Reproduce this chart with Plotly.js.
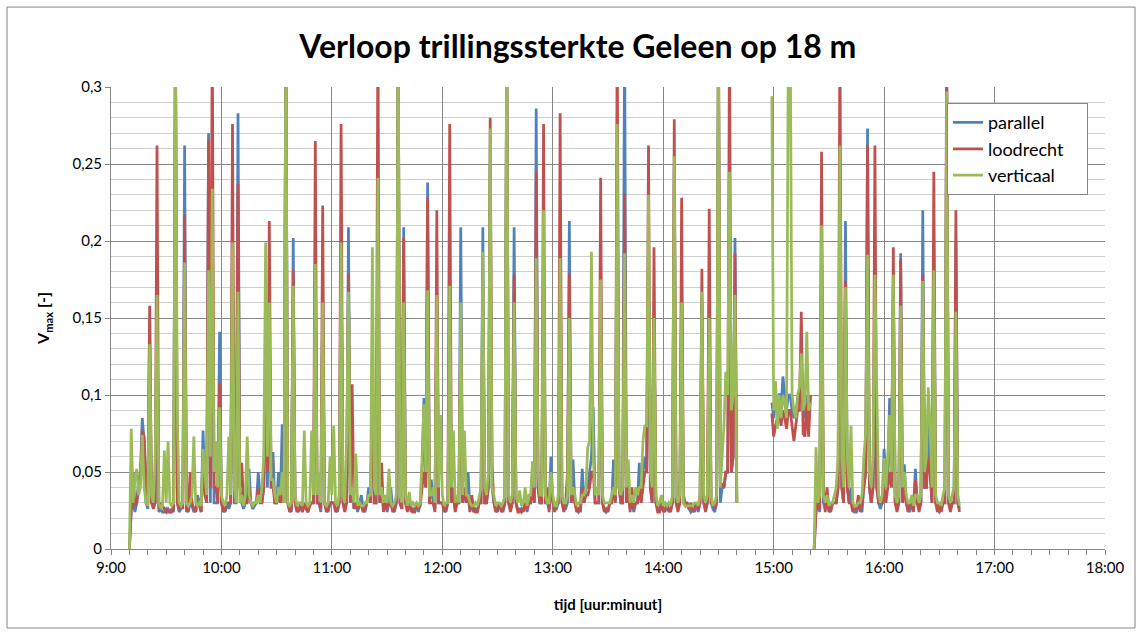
<!DOCTYPE html>
<html>
<head>
<meta charset="utf-8">
<script src="https://cdn.plot.ly/plotly-3.0.1.min.js"></script>
<style>html,body{margin:0;padding:0;background:#fff;}#chart{width:1142px;height:635px;}</style>
</head>
<body>
<div id="chart"></div>
<script>
// time in minutes after 9:00 (null entries break the line)
const tijdMin = [
10,11,12,13,14,15,16,17,18,19, 20,21,22,23,24,25,26,27,28,29, 30,31,32,33,34,35,36,37,38,39,
40,41,42,43,44,45,46,47,48,49, 50,51,52,53,54,55,56,57,58,59, 60,61,62,63,64,65,66,67,68,69,
70,71,72,73,74,75,76,77,78,79, 80,81,82,83,84,85,86,87,88,89, 90,91,92,93,94,95,96,97,98,99,
100,101,102,103,104,105,106,107,108,109, 110,111,112,113,114,115,116,117,118,119,
120,121,122,123,124,125,126,127,128,129, 130,131,132,133,134,135,136,137,138,139,
140,141,142,143,144,145,146,147,148,149, 150,151,152,153,154,155,156,157,158,159,
160,161,162,163,164,165,166,167,168,169, 170,171,172,173,174,175,176,177,178,179,
180,181,182,183,184,185,186,187,188,189, 190,191,192,193,194,195,196,197,198,199,
200,201,202,203,204,205,206,207,208,209, 210,211,212,213,214,215,216,217,218,219,
220,221,222,223,224,225,226,227,228,229, 230,231,232,233,234,235,236,237,238,239,
240,241,242,243,244,245,246,247,248,249, 250,251,252,253,254,255,256,257,258,259,
260,261,262,263,264,265,266,267,268,269, 270,271,272,273,274,275,276,277,278,279,
280,281,282,283,284,285,286,287,288,289, 290,291,292,293,294,295,296,297,298,299,
300,301,302,303,304,305,306,307,308,309, 310,311,312,313,314,315,316,317,318,319,
320,321,322,323,324,325,326,327,328,329, 330,331,332,333,334,335,336,337,338,339,
340,
350,
359,360,361,362,363,364,365,366,367,368, 369,370,371,372,373,374,375,376,377,378, 379,380,
381,
382,383,384,385,386,387,388,389,390,391, 392,393,394,395,396,397,398,399,400,401,
402,403,404,405,406,407,408,409,410,411, 412,413,414,415,416,417,418,419,420,421,
422,423,424,425,426,427,428,429,430,431, 432,433,434,435,436,437,438,439,440,441,
442,443,444,445,446,447,448,449,450,451, 452,453,454,455,456,457,458,459,460,461
];

const parallel = [
0,0.026,0.03,0.024,0.03,0.045,0.05,0.085,0.07,0.03,
0.026,0.15,0.03,0.028,0.03,0.16,0.024,0.026,0.024,0.024,
0.026,0.024,0.024,0.026,0.024,0.34,0.03,0.024,0.026,0.03,
0.262,0.026,0.024,0.03,0.028,0.024,0.026,0.035,0.03,0.024,
0.077,0.04,0.03,0.27,0.03,0.2,0.03,0.03,0.03,0.141,
0.03,0.026,0.024,0.03,0.026,0.03,0.2,0.03,0.03,0.283,
0.04,0.03,0.026,0.03,0.035,0.052,0.03,0.026,0.028,0.03,
0.05,0.035,0.03,0.04,0.12,0.04,0.15,0.04,0.063,0.03,
0.03,0.05,0.03,0.081,0.03,0.34,0.03,0.026,0.024,0.202,
0.03,0.026,0.024,0.03,0.024,0.03,0.026,0.024,0.03,0.03,
0.03,0.18,0.03,0.03,0.024,0.16,0.03,0.026,0.024,0.03,
0.03,0.03,0.026,0.024,0.03,0.2,0.03,0.026,0.03,0.209,
0.03,0.04,0.026,0.03,0.024,0.03,0.035,0.026,0.024,0.03,
0.04,0.03,0.1,0.03,0.03,0.2,0.03,0.04,0.026,0.03,
0.024,0.03,0.04,0.026,0.024,0.03,0.34,0.03,0.026,0.209,
0.03,0.026,0.03,0.024,0.026,0.024,0.03,0.024,0.03,0.05,
0.098,0.04,0.238,0.03,0.045,0.03,0.026,0.16,0.03,0.03,
0.03,0.026,0.024,0.03,0.16,0.03,0.04,0.026,0.03,0.03,
0.209,0.03,0.04,0.03,0.05,0.026,0.028,0.024,0.026,0.024,
0.03,0.03,0.209,0.03,0.03,0.04,0.25,0.04,0.03,0.026,
0.024,0.03,0.026,0.024,0.03,0.34,0.03,0.026,0.03,0.209,
0.03,0.026,0.026,0.024,0.026,0.03,0.024,0.03,0.03,0.05,
0.03,0.286,0.04,0.03,0.03,0.2,0.03,0.03,0.026,0.06,
0.03,0.026,0.026,0.03,0.2,0.03,0.026,0.026,0.03,0.213,
0.03,0.058,0.03,0.026,0.024,0.026,0.052,0.03,0.04,0.04,
0.05,0.06,0.092,0.03,0.03,0.03,0.17,0.03,0.026,0.024,
0.026,0.03,0.03,0.058,0.03,0.25,0.04,0.03,0.03,0.34,
0.03,0.04,0.026,0.03,0.024,0.03,0.03,0.056,0.03,0.05,
0.06,0.05,0.2,0.04,0.03,0.15,0.03,0.026,0.026,0.03,
0.026,0.024,0.03,0.024,0.026,0.03,0.25,0.03,0.026,0.03,
0.16,0.035,0.03,0.03,0.026,0.024,0.026,0.024,0.03,0.024,
0.03,0.16,0.03,0.026,0.03,0.15,0.03,0.026,0.024,0.03,
0.34,0.03,0.04,0.04,0.05,0.05,0.2,0.05,0.06,0.202,
0.03,
null,
0.095,0.085,0.095,0.09,0.101,0.09,0.112,0.1,0.09,0.1,
0.1,0.09,0.085,0.09,0.095,0.1,0.12,0.09,0.085,0.1,
0.09,0.1,
null,
0,0.026,0.03,0.024,0.2,0.03,0.026,0.03,0.024,0.026,
0.03,0.03,0.03,0.04,0.2,0.04,0.03,0.213,0.04,0.03,
0.04,0.026,0.024,0.024,0.028,0.026,0.024,0.04,0.05,0.273,
0.04,0.03,0.04,0.1,0.04,0.03,0.026,0.03,0.065,0.04,
0.05,0.098,0.04,0.17,0.03,0.026,0.03,0.192,0.03,0.055,
0.03,0.026,0.024,0.03,0.026,0.052,0.03,0.026,0.03,0.22,
0.04,0.04,0.092,0.05,0.03,0.2,0.03,0.026,0.024,0.026,
0.03,0.03,0.3,0.03,0.026,0.03,0.03,0.2,0.03,0.026
];

const loodrecht = [
0,0.024,0.05,0.028,0.03,0.04,0.045,0.077,0.073,0.04,
0.03,0.158,0.03,0.026,0.03,0.262,0.026,0.03,0.028,0.026,
0.024,0.026,0.024,0.024,0.026,0.34,0.03,0.026,0.03,0.026,
0.217,0.024,0.026,0.05,0.03,0.026,0.024,0.03,0.028,0.024,
0.06,0.035,0.03,0.266,0.04,0.34,0.04,0.04,0.03,0.108,
0.03,0.024,0.026,0.03,0.03,0.03,0.276,0.03,0.035,0.237,
0.04,0.056,0.03,0.03,0.03,0.04,0.03,0.028,0.03,0.03,
0.04,0.03,0.03,0.04,0.13,0.05,0.213,0.04,0.04,0.03,
0.03,0.035,0.03,0.04,0.03,0.34,0.03,0.024,0.026,0.181,
0.03,0.024,0.026,0.028,0.024,0.03,0.026,0.024,0.028,0.03,
0.03,0.265,0.03,0.03,0.026,0.223,0.03,0.024,0.026,0.03,
0.03,0.03,0.024,0.026,0.03,0.276,0.03,0.024,0.03,0.179,
0.03,0.107,0.026,0.03,0.026,0.028,0.028,0.024,0.026,0.03,
0.035,0.03,0.1,0.03,0.03,0.34,0.03,0.056,0.024,0.03,
0.026,0.03,0.03,0.024,0.026,0.03,0.34,0.03,0.026,0.202,
0.03,0.024,0.03,0.026,0.024,0.024,0.03,0.026,0.028,0.04,
0.05,0.04,0.228,0.03,0.03,0.03,0.024,0.22,0.03,0.03,
0.03,0.024,0.026,0.03,0.276,0.03,0.035,0.024,0.03,0.03,
0.15,0.03,0.04,0.03,0.035,0.024,0.035,0.026,0.024,0.024,
0.03,0.03,0.17,0.03,0.03,0.04,0.28,0.056,0.03,0.024,
0.026,0.03,0.024,0.026,0.03,0.34,0.03,0.024,0.03,0.178,
0.03,0.024,0.024,0.026,0.024,0.03,0.026,0.03,0.03,0.04,
0.03,0.245,0.04,0.03,0.03,0.276,0.03,0.04,0.024,0.04,
0.03,0.024,0.03,0.03,0.283,0.03,0.024,0.03,0.05,0.179,
0.03,0.04,0.03,0.024,0.026,0.024,0.04,0.03,0.035,0.035,
0.04,0.05,0.05,0.03,0.03,0.03,0.241,0.03,0.024,0.026,
0.024,0.03,0.03,0.04,0.03,0.34,0.04,0.03,0.03,0.231,
0.03,0.04,0.024,0.04,0.026,0.03,0.03,0.04,0.03,0.04,
0.05,0.05,0.262,0.04,0.03,0.196,0.03,0.024,0.024,0.03,
0.024,0.026,0.028,0.026,0.024,0.03,0.279,0.03,0.024,0.03,
0.228,0.03,0.028,0.03,0.026,0.03,0.024,0.026,0.03,0.026,
0.03,0.182,0.03,0.024,0.03,0.221,0.03,0.03,0.026,0.03,
0.34,0.042,0.042,0.04,0.05,0.05,0.34,0.05,0.06,0.192,
0.03,
null,
0.088,0.073,0.08,0.085,0.09,0.08,0.09,0.085,0.078,0.09,
0.09,0.08,0.07,0.08,0.09,0.09,0.154,0.075,0.073,0.095,
0.073,0.1,
null,
0,0.024,0.03,0.026,0.258,0.04,0.024,0.04,0.026,0.024,
0.03,0.03,0.03,0.04,0.34,0.04,0.03,0.174,0.04,0.03,
0.03,0.024,0.026,0.026,0.035,0.024,0.03,0.04,0.05,0.262,
0.04,0.03,0.04,0.262,0.04,0.03,0.03,0.03,0.04,0.03,
0.04,0.05,0.04,0.196,0.03,0.024,0.03,0.188,0.03,0.04,
0.03,0.024,0.03,0.03,0.024,0.045,0.03,0.024,0.03,0.178,
0.04,0.04,0.06,0.05,0.03,0.245,0.03,0.024,0.03,0.024,
0.03,0.03,0.34,0.03,0.024,0.03,0.03,0.22,0.03,0.024
];

const verticaal = [
0,0.078,0.03,0.045,0.052,0.035,0.04,0.074,0.04,0.03,
0.028,0.133,0.035,0.03,0.06,0.165,0.03,0.026,0.028,0.064,
0.03,0.07,0.03,0.028,0.03,0.34,0.09,0.03,0.028,0.03,
0.186,0.03,0.028,0.03,0.035,0.073,0.03,0.028,0.03,0.028,
0.065,0.05,0.035,0.181,0.06,0.234,0.05,0.07,0.04,0.092,
0.035,0.03,0.028,0.035,0.073,0.035,0.199,0.04,0.03,0.167,
0.03,0.035,0.028,0.035,0.073,0.035,0.03,0.028,0.03,0.03,
0.035,0.03,0.04,0.06,0.199,0.06,0.16,0.045,0.045,0.035,
0.03,0.04,0.035,0.05,0.03,0.34,0.03,0.028,0.03,0.171,
0.035,0.028,0.03,0.03,0.028,0.077,0.03,0.028,0.03,0.077,
0.035,0.185,0.035,0.05,0.03,0.16,0.03,0.028,0.03,0.06,
0.035,0.08,0.03,0.028,0.035,0.199,0.035,0.03,0.07,0.167,
0.035,0.04,0.03,0.062,0.028,0.03,0.028,0.028,0.03,0.03,
0.035,0.035,0.196,0.04,0.035,0.241,0.035,0.04,0.03,0.035,
0.03,0.052,0.03,0.028,0.03,0.035,0.34,0.035,0.03,0.16,
0.035,0.028,0.037,0.028,0.03,0.028,0.03,0.028,0.03,0.06,
0.094,0.05,0.168,0.035,0.035,0.04,0.03,0.165,0.04,0.087,
0.035,0.028,0.03,0.03,0.171,0.04,0.077,0.03,0.035,0.03,
0.16,0.035,0.077,0.035,0.035,0.03,0.028,0.028,0.03,0.028,
0.035,0.04,0.193,0.04,0.035,0.05,0.273,0.04,0.035,0.028,
0.03,0.03,0.028,0.03,0.035,0.34,0.035,0.03,0.035,0.16,
0.035,0.03,0.038,0.028,0.03,0.04,0.028,0.035,0.035,0.057,
0.04,0.189,0.05,0.035,0.035,0.22,0.035,0.03,0.03,0.05,
0.035,0.028,0.028,0.035,0.189,0.035,0.03,0.03,0.035,0.15,
0.035,0.04,0.035,0.028,0.03,0.03,0.035,0.035,0.04,0.066,
0.07,0.193,0.06,0.035,0.04,0.035,0.175,0.035,0.03,0.03,
0.03,0.03,0.035,0.04,0.035,0.276,0.04,0.035,0.04,0.192,
0.04,0.058,0.03,0.035,0.03,0.04,0.035,0.04,0.04,0.07,
0.08,0.08,0.23,0.05,0.04,0.15,0.035,0.028,0.03,0.035,
0.028,0.03,0.028,0.03,0.028,0.035,0.255,0.035,0.03,0.035,
0.16,0.03,0.028,0.028,0.028,0.028,0.028,0.03,0.03,0.028,
0.035,0.167,0.035,0.03,0.035,0.15,0.035,0.028,0.03,0.035,
0.34,0.04,0.06,0.08,0.115,0.1,0.245,0.09,0.1,0.165,
0.03,
null,
0.294,0.09,0.109,0.078,0.1,0.085,0.1,0.095,0.085,0.34,
0.34,0.1,0.09,0.085,0.1,0.105,0.127,0.09,0.095,0.141,
0.09,0.095,
null,
0,0.066,0.03,0.035,0.21,0.035,0.03,0.035,0.028,0.03,
0.03,0.035,0.04,0.06,0.262,0.06,0.04,0.17,0.06,0.04,
0.08,0.03,0.028,0.028,0.03,0.03,0.035,0.06,0.075,0.191,
0.05,0.04,0.06,0.178,0.105,0.035,0.03,0.035,0.059,0.04,
0.06,0.087,0.05,0.178,0.035,0.03,0.035,0.158,0.04,0.05,
0.035,0.03,0.03,0.035,0.028,0.035,0.035,0.03,0.035,0.174,
0.05,0.06,0.105,0.08,0.04,0.181,0.035,0.03,0.03,0.028,
0.035,0.04,0.297,0.035,0.03,0.035,0.04,0.154,0.035,0.028
];

const seriesNames = ['parallel', 'loodrecht', 'verticaal'];
const seriesColors = ['#4F81BD', '#C0504D', '#9BBB59'];
const xTickVals = [0, 60, 120, 180, 240, 300, 360, 420, 480, 540];
const xTickText = ['9:00', '10:00', '11:00', '12:00', '13:00', '14:00', '15:00', '16:00', '17:00', '18:00'];
const yTickVals = [0, 0.05, 0.1, 0.15, 0.2, 0.25, 0.3];
const yTickText = ['0', '0,05', '0,1', '0,15', '0,2', '0,25', '0,3'];

const FONT = 'Lato, "Open Sans", sans-serif';
const PAD = '\u00a0\u00a0\u00a0\u00a0';
const allValues = [parallel, loodrecht, verticaal];
const traces = allValues.map((vals, i) => ({
  type: 'scatter',
  mode: 'lines',
  x: tijdMin,
  y: vals,
  name: seriesNames[i] + PAD,
  legendgroup: 'g' + i,
  connectgaps: false,
  line: {color: seriesColors[i], width: 2.75, shape: 'linear'},
  hoverinfo: 'skip'
}));

const grey = '#868686';
const layout = {
  width: 1142,
  height: 635,
  paper_bgcolor: '#ffffff',
  plot_bgcolor: '#ffffff',
  margin: {l: 111, r: 37, t: 87, b: 86, pad: 0},
  font: {family: FONT, color: '#000'},
  title: {
    text: '<b>Verloop trillingssterkte Geleen op 18 m</b>',
    font: {family: FONT, size: 32, color: '#000'},
    x: 0.506, xanchor: 'center', xref: 'container',
    y: 0.927, yanchor: 'middle', yref: 'container'
  },
  xaxis: {
    range: [0, 540],
    tickmode: 'array', tickvals: xTickVals, ticktext: xTickText,
    ticks: 'outside', ticklen: 5, tickcolor: grey, tickwidth: 1,
    showline: true, linecolor: grey, linewidth: 1,
    showgrid: true, gridcolor: grey, gridwidth: 1,
    zeroline: false,
    minor: {dtick: 10, tick0: 0, ticks: 'outside', ticklen: 5, tickcolor: grey, showgrid: false},
    tickfont: {family: FONT, size: 15, color: '#000'},
    title: {text: '<b>tijd [uur:minuut]</b>', font: {family: FONT, size: 15, color: '#000'}, standoff: 24},
    fixedrange: true
  },
  yaxis: {
    range: [0, 0.3],
    tickmode: 'array', tickvals: yTickVals, ticktext: yTickText,
    ticks: 'outside', ticklen: 5, tickcolor: grey, tickwidth: 1,
    showline: true, linecolor: grey, linewidth: 1,
    showgrid: true, gridcolor: grey, gridwidth: 1,
    zeroline: false,
    minor: {dtick: 0.01, tick0: 0, ticks: '', showgrid: true, gridcolor: '#d0d0d0', gridwidth: 1},
    tickfont: {family: FONT, size: 15, color: '#000'},
    title: {text: '<b>V<sub>max</sub> [-]</b>', font: {family: FONT, size: 16, color: '#000'}, standoff: 18},
    fixedrange: true
  },
  showlegend: true,
  legend: {
    x: 0.841, y: 0.965, xanchor: 'left', yanchor: 'top',
    bgcolor: '#ffffff', bordercolor: grey, borderwidth: 1,
    font: {family: FONT, size: 18, color: '#000'},
    tracegroupgap: 6, traceorder: 'normal'
  },
  shapes: [{
    type: 'rect', xref: 'paper', yref: 'paper', layer: 'below',
    x0: -0.1046, x1: 1.0302, y0: -0.171, y1: 1.173,
    line: {color: grey, width: 1}
  }]
};

Plotly.newPlot('chart', traces, layout, {displayModeBar: false, staticPlot: true});
</script>
</body>
</html>
